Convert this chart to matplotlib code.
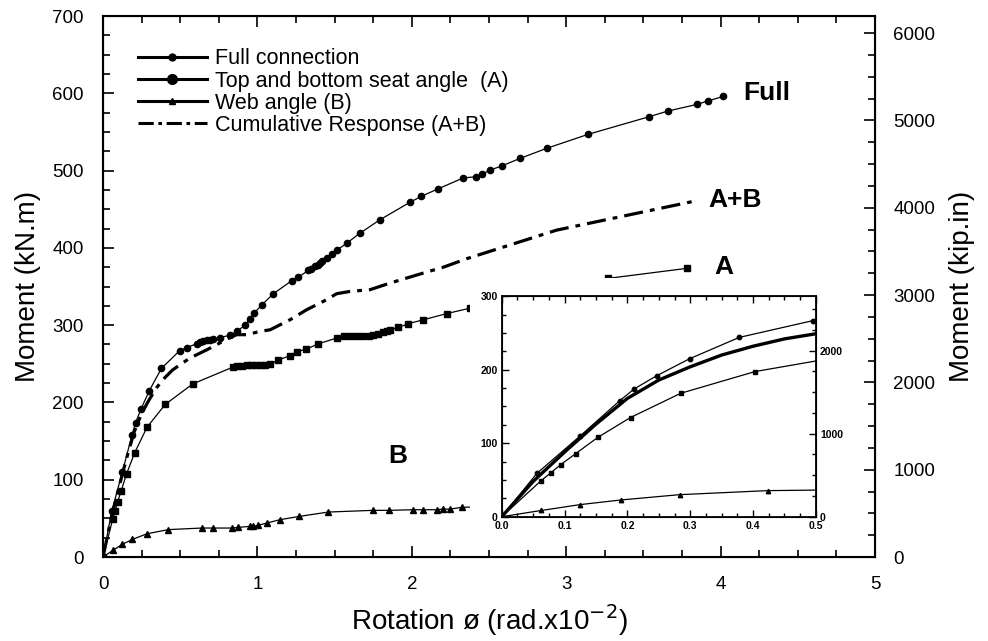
import matplotlib
matplotlib.use("Agg")
import matplotlib.pyplot as plt
from matplotlib.lines import Line2D
from matplotlib.patches import Rectangle
from matplotlib.ticker import MultipleLocator

plt.rcParams["font.family"] = ["Liberation Sans", "DejaVu Sans"]

KIPIN_PER_KNM = 8.8507

# rotation (rad x 1e-2), moment (kN.m)
full_rot = [0, 0.056, 0.125, 0.188, 0.211, 0.247, 0.299, 0.378, 0.496, 0.542,
            0.607, 0.628, 0.65, 0.671, 0.693, 0.715, 0.758, 0.822, 0.866, 0.92,
            0.95, 0.98, 1.03, 1.103, 1.222, 1.265, 1.33, 1.35, 1.37, 1.39,
            1.405, 1.42, 1.449, 1.48, 1.518, 1.578, 1.664, 1.794, 1.988, 2.06,
            2.172, 2.334, 2.416, 2.452, 2.507, 2.582, 2.701, 2.873, 3.143, 3.538,
            3.657, 3.845, 3.916, 4.017]
full_mom = [0, 59, 110, 158, 174, 192, 215, 244, 267, 271,
            276, 277.7, 279, 280.4, 281.3, 282, 284, 287, 292, 300,
            308, 316, 326.5, 340.7, 357.5, 362, 371, 373, 376, 378,
            380, 383, 387, 392.5, 397.6, 406, 419, 436.5, 459, 466.6,
            476.6, 490.6, 492, 495, 500.7, 506, 515.8, 528.8, 547, 569.8,
            577, 585.6, 590, 596]

seat_rot = [0, 0.0626, 0.0785, 0.094, 0.118, 0.153, 0.205, 0.285, 0.403, 0.581,
            0.844, 0.87, 0.90, 0.93, 0.96, 0.99, 1.02, 1.05, 1.08, 1.136,
            1.21, 1.254, 1.315, 1.39, 1.513, 1.561, 1.60, 1.64, 1.68, 1.72,
            1.75, 1.78, 1.81, 1.84, 1.86, 1.913, 1.978, 2.075, 2.226, 2.377,
            2.8, 3.273, 3.78]
seat_mom = [0, 49, 60, 71, 86, 108, 135, 168, 197.5, 224,
            246, 247, 247.5, 248, 248, 248.5, 249, 249, 249.5, 255,
            260.5, 265.7, 268.7, 275.6, 283.3, 285.5, 285.5, 285.5, 285.5, 286,
            287.7, 289, 291, 293, 294, 297, 302, 307, 315, 322,
            342, 360.6, 373.5]

web_rot = [0, 0.063, 0.125, 0.19, 0.283, 0.423, 0.639, 0.715, 0.833, 0.877,
           0.952, 0.974, 1.006, 1.06, 1.146, 1.272, 1.459, 1.747, 1.852, 2.01,
           2.075, 2.16, 2.2, 2.247, 2.323, 2.6]
web_mom = [0, 8.5, 16.5, 22.8, 30, 35.5, 37.5, 37.5, 37.5, 38.4,
           39.7, 39.7, 41, 44, 48.3, 52.6, 58.2, 60.4, 60.4, 61.2,
           61.2, 61.2, 62, 62, 64.3, 66]

cum_rot = [0, 0.05, 0.1, 0.15, 0.2, 0.25, 0.3, 0.35, 0.4, 0.45,
           0.5, 0.563, 0.671, 0.823, 0.866, 0.93, 1.017, 1.082, 1.211, 1.319,
           1.427, 1.513, 1.6, 1.729, 1.859, 1.967, 2.075, 2.204, 2.355, 2.938,
           3.812]
cum_mom = [0, 48, 88, 126, 161, 186, 204, 220, 232, 242,
           249, 257.5, 268, 284, 287.7, 287.7, 292, 294, 307, 320,
           330.8, 340.7, 343.7, 345.9, 354.5, 361, 367.5, 375, 386, 423,
           459.7]

legend_labels = ["Full connection", "Top and bottom seat angle  (A)",
                 "Web angle (B)", "Cumulative Response (A+B)"]

fig = plt.figure(figsize=(9.88, 6.41), dpi=100)
ax = fig.add_axes([0.1043, 0.131, 0.7814, 0.844])

ax.plot(full_rot, full_mom, "k-", lw=0.9, marker="o", ms=4.5, zorder=3)
ax.plot(seat_rot, seat_mom, "k-", lw=0.9, marker="s", ms=4, zorder=3)
ax.plot(web_rot, web_mom, "k-", lw=0.9, marker="^", ms=4.5, zorder=3)
ax.plot(cum_rot, cum_mom, "k", lw=2.3, ls=(0, (6, 2.2, 1.5, 2.2)), zorder=3)

# white area behind the inset hides the curves there
ax.add_patch(Rectangle((2.377, 28), 4.84 - 2.377, 361.5 - 28,
                       facecolor="white", edgecolor="none", zorder=5))

ax.set_xlim(0, 5)
ax.set_ylim(0, 700)
ax.xaxis.set_major_locator(MultipleLocator(1))
ax.xaxis.set_minor_locator(MultipleLocator(0.25))
ax.yaxis.set_major_locator(MultipleLocator(100))
ax.yaxis.set_minor_locator(MultipleLocator(25))
ax.tick_params(which="both", direction="in", top=True, width=1.2)
ax.tick_params(which="major", length=8, labelsize=13.5, pad=14)
ax.tick_params(which="minor", length=5)
for s in ax.spines.values():
    s.set_linewidth(1.5)
ax.set_xlabel("Rotation ø (rad.x10$^{-2}$)", fontsize=20, labelpad=6)
ax.set_ylabel("Moment (kN.m)", fontsize=20, labelpad=8)

ax2 = ax.twinx()
ax2.set_ylim(0, 700 * KIPIN_PER_KNM)
ax2.yaxis.set_major_locator(MultipleLocator(1000))
ax2.yaxis.set_minor_locator(MultipleLocator(250))
ax2.tick_params(which="both", direction="in", width=1.2)
ax2.tick_params(which="major", length=8, labelsize=13.5, pad=13)
ax2.tick_params(which="minor", length=5)
ax2.set_ylabel("Moment (kip.in)", fontsize=20, labelpad=10)

handles = [
    Line2D([], [], color="k", lw=2.2, marker="o", ms=5),
    Line2D([], [], color="k", lw=2.2, marker="o", ms=7),
    Line2D([], [], color="k", lw=2.2, marker="^", ms=5),
    Line2D([], [], color="k", lw=2.2, ls=(0, (5, 1.5, 1.2, 1.5))),
]
ax.legend(handles, legend_labels, loc="upper left", bbox_to_anchor=(0.045, 0.94),
          frameon=False, fontsize=15.5, handlelength=3.2, handletextpad=0.4,
          labelspacing=0.05, borderpad=0, borderaxespad=0, markerfirst=True)

ax.text(4.145, 600, "Full", fontsize=19, fontweight="bold", va="center")
ax.text(3.92, 462, "A+B", fontsize=19, fontweight="bold", va="center")
ax.text(3.96, 375, "A", fontsize=19, fontweight="bold", va="center")
ax.text(1.91, 131, "B", fontsize=19, fontweight="bold", va="center", ha="center")

# inset: initial stiffness region
ins = fig.add_axes([0.5078, 0.1939, 0.318, 0.3439])
ins.plot(full_rot, full_mom, "k-", lw=0.9, marker="o", ms=3.2)
ins.plot(seat_rot, seat_mom, "k-", lw=0.9, marker="s", ms=3)
ins.plot(web_rot, web_mom, "k-", lw=0.9, marker="^", ms=3.2)
ins.plot(cum_rot, cum_mom, "k-", lw=2.4)
ins.set_xlim(0, 0.5)
ins.set_ylim(0, 300)
ins.xaxis.set_major_locator(MultipleLocator(0.1))
ins.xaxis.set_minor_locator(MultipleLocator(0.025))
ins.yaxis.set_major_locator(MultipleLocator(100))
ins.yaxis.set_minor_locator(MultipleLocator(25))
ins.xaxis.set_major_formatter(lambda v, p: f"{v:.1f}")
ins.tick_params(which="both", direction="in", top=True, width=1)
ins.tick_params(which="major", length=5, labelsize=7.5, pad=3)
ins.tick_params(which="minor", length=3)
for lab in ins.get_xticklabels() + ins.get_yticklabels():
    lab.set_fontweight("bold")
for s in ins.spines.values():
    s.set_linewidth(1.3)

ins2 = ins.twinx()
ins2.set_ylim(0, 300 * KIPIN_PER_KNM)
ins2.yaxis.set_major_locator(MultipleLocator(1000))
ins2.yaxis.set_minor_locator(MultipleLocator(250))
ins2.tick_params(which="both", direction="in", width=1)
ins2.tick_params(which="major", length=5, labelsize=7.5, pad=3)
ins2.tick_params(which="minor", length=3)
for lab in ins2.get_yticklabels():
    lab.set_fontweight("bold")

fig.savefig("out.png", dpi=100)
